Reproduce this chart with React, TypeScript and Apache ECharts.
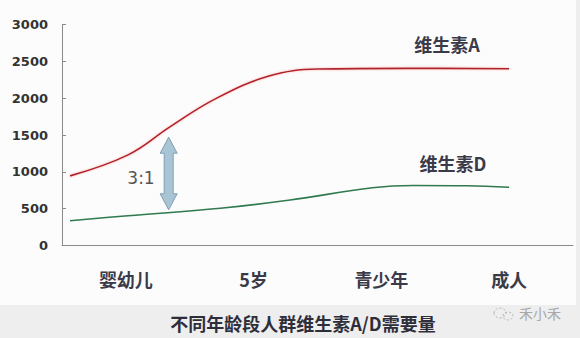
import React, { useEffect, useRef } from "react";
import * as echarts from "echarts";

const categories = ["婴幼儿", "5岁", "青少年", "成人"];
const yTicks = { min: 0, max: 3000, interval: 500 };
// x positions in category units (0..4), y values
const vitaminA: [number, number][] = [
  [0.063, 945], [0.517, 1230], [0.845, 1610], [1.2, 1990], [1.62, 2300],
  [2.0, 2395], [2.7, 2405], [3.5, 2400],
];
const vitaminD: [number, number][] = [
  [0.063, 337], [0.517, 404], [1.24, 505], [1.785, 617], [2.43, 784],
  [2.75, 815], [3.17, 811], [3.5, 790],
];
const seriesNames = ["维生素A", "维生素D"];
const ratioLabel = "3:1";
const arrowAt = { x: 0.835, top: 1470, bottom: 485 };
const title = "不同年龄段人群维生素A/D需要量";
const watermark = "禾小禾";

const CJK = '"Noto Sans CJK SC", "Noto Sans", sans-serif';

export default function App() {
  const ref = useRef<HTMLDivElement>(null);
  useEffect(() => {
    document.body.style.margin = "0";
    const chart = echarts.init(ref.current!, null, { renderer: "svg" });
    const option: any = {
      animation: false,
      backgroundColor: "#fcfcfc",
      grid: { left: 62, right: 7, top: 24.5, bottom: 92.5, containLabel: false },
      xAxis: [
        {
          type: "category",
          data: categories,
          boundaryGap: true,
          axisLine: { lineStyle: { color: "#8a8a8a", width: 1 } },
          axisTick: { inside: true, length: 5, lineStyle: { color: "#8a8a8a" } },
          axisLabel: {
            margin: 24,
            fontSize: 18,
            fontWeight: "bold",
            color: "#3a3a48",
            fontFamily: CJK,
          },
        },
        { type: "value", min: 0, max: 4, show: false },
      ],
      yAxis: {
        type: "value",
        min: yTicks.min,
        max: yTicks.max,
        interval: yTicks.interval,
        axisLine: { show: true, lineStyle: { color: "#8a8a8a", width: 1 } },
        axisTick: { show: true, inside: true, length: 4, lineStyle: { color: "#8a8a8a" } },
        splitLine: { show: false },
        axisLabel: {
          margin: 14,
          fontSize: 13,
          fontWeight: "bold",
          color: "#333",
          fontFamily: '"DejaVu Sans", sans-serif',
          formatter: (v: number) => String(v),
        },
      },
      series: [
        {
          name: seriesNames[0],
          type: "line",
          xAxisIndex: 1,
          data: vitaminA,
          smooth: 0.4,
          showSymbol: false,
          lineStyle: {
            color: "#b0202a",
            width: 1.6,
            shadowColor: "rgba(255,120,120,0.6)",
            shadowBlur: 2,
          },
        },
        {
          name: seriesNames[1],
          type: "line",
          xAxisIndex: 1,
          data: vitaminD,
          smooth: 0.4,
          showSymbol: false,
          lineStyle: { color: "#2f7a4e", width: 1.6 },
        },
      ],
    };
    chart.setOption(option);

    const top = chart.convertToPixel({ xAxisIndex: 1, yAxisIndex: 0 }, [arrowAt.x, arrowAt.top]);
    const bot = chart.convertToPixel({ xAxisIndex: 1, yAxisIndex: 0 }, [arrowAt.x, arrowAt.bottom]);
    const cx = top[0];
    const t = top[1];
    const b = bot[1];
    const hw = 8.5;
    const sw = 4.5;
    const hh = 16;
    const arrowPts = [
      [cx, t], [cx + hw, t + hh], [cx + sw, t + hh], [cx + sw, b - hh], [cx + hw, b - hh],
      [cx, b], [cx - hw, b - hh], [cx - sw, b - hh], [cx - sw, t + hh], [cx - hw, t + hh],
    ];

    chart.setOption({
      graphic: [
        {
          type: "rect",
          z: -10,
          silent: true,
          shape: { x: 0, y: 305, width: 580, height: 33 },
          style: { fill: "#eeeeee" },
        },
        {
          type: "rect",
          z: -10,
          silent: true,
          shape: { x: 576, y: 0, width: 4, height: 338 },
          style: { fill: "#eeeeee" },
        },
        {
          type: "polygon",
          shape: { points: arrowPts },
          style: { fill: "#a9c5d5", stroke: "#7f9fb2", lineWidth: 1 },
        },
        {
          type: "text",
          x: 141,
          y: 178,
          style: {
            text: ratioLabel,
            fontSize: 17,
            fill: "#555",
            fontFamily: '"DejaVu Sans", sans-serif',
            align: "center",
            verticalAlign: "middle",
          },
        },
        {
          type: "text",
          x: 447,
          y: 44,
          style: {
            text: seriesNames[0],
            fontSize: 18,
            fontWeight: "bold",
            fill: "#3a3a48",
            fontFamily: CJK,
            align: "center",
            verticalAlign: "middle",
          },
        },
        {
          type: "text",
          x: 453,
          y: 163,
          style: {
            text: seriesNames[1],
            fontSize: 18,
            fontWeight: "bold",
            fill: "#3a3a48",
            fontFamily: CJK,
            align: "center",
            verticalAlign: "middle",
          },
        },
        {
          type: "text",
          x: 303,
          y: 323,
          style: {
            text: title,
            fontSize: 18,
            fontWeight: "bold",
            fill: "#2e2e3a",
            fontFamily: CJK,
            align: "center",
            verticalAlign: "middle",
          },
        },
        {
          type: "ellipse",
          shape: { cx: 500, cy: 313, rx: 6, ry: 5 },
          style: { fill: "none", stroke: "#b8b8b8", lineWidth: 1, lineDash: [2, 2] },
        },
        {
          type: "ellipse",
          shape: { cx: 508, cy: 316, rx: 5, ry: 4 },
          style: { fill: "none", stroke: "#b8b8b8", lineWidth: 1, lineDash: [2, 2] },
        },
        {
          type: "text",
          x: 540,
          y: 313,
          style: {
            text: watermark,
            fontSize: 14,
            fill: "#a8a8a8",
            fontFamily: CJK,
            align: "center",
            verticalAlign: "middle",
          },
        },
      ],
    });

    return () => chart.dispose();
  }, []);
  return <div ref={ref} style={{ width: 580, height: 338 }} />;
}
